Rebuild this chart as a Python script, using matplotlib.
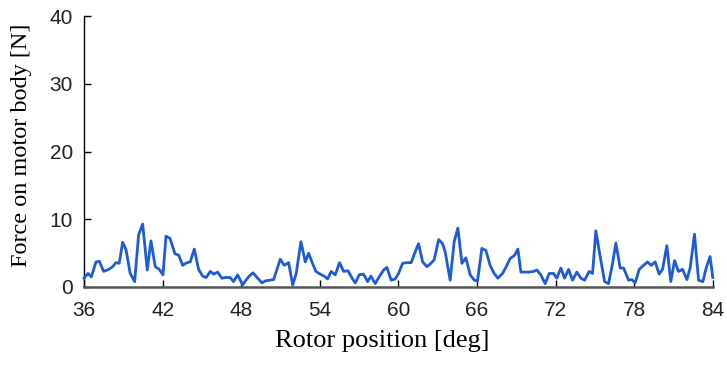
import matplotlib
matplotlib.use("Agg")
import matplotlib.pyplot as plt

# rotor angle [deg] and resulting force on the motor body [N]
position = [
    36.00, 36.31, 36.56, 36.92, 37.17, 37.50, 37.88, 38.19, 38.44, 38.69,
    38.95, 39.21, 39.53, 39.87, 40.17, 40.48, 40.83, 41.11, 41.44, 41.75,
    42.03, 42.26, 42.56, 42.95, 43.23, 43.53, 43.86, 44.11, 44.42, 44.75,
    45.06, 45.33, 45.64, 45.90, 46.20, 46.53, 46.84, 47.16, 47.42, 47.73,
    48.11, 48.36, 48.61, 48.90, 49.26, 49.58, 49.84, 50.14, 50.48, 50.98,
    51.29, 51.62, 51.93, 52.20, 52.56, 52.89, 53.15, 53.40, 53.70, 54.03,
    54.34, 54.60, 54.87, 55.18, 55.51, 55.82, 56.15, 56.50, 56.71, 57.01,
    57.34, 57.65, 57.90, 58.23, 58.53, 58.87, 59.12, 59.45, 59.76, 60.01,
    60.32, 60.65, 60.98, 61.28, 61.54, 61.85, 62.18, 62.43, 62.73, 63.07,
    63.37, 63.57, 63.95, 64.26, 64.54, 64.85, 65.15, 65.48, 65.79, 66.04,
    66.37, 66.68, 67.00, 67.31, 67.59, 67.95, 68.20, 68.53, 68.87, 69.12,
    69.35, 69.68, 69.98, 70.32, 70.57, 70.87, 71.20, 71.51, 71.84, 72.09,
    72.40, 72.68, 72.99, 73.29, 73.62, 73.93, 74.21, 74.56, 74.82, 75.07,
    75.40, 75.74, 76.04, 76.35, 76.60, 76.93, 77.19, 77.57, 77.82, 78.07,
    78.38, 78.71, 79.02, 79.29, 79.60, 79.90, 80.16, 80.49, 80.79, 81.08,
    81.38, 81.69, 82.02, 82.27, 82.60, 82.91, 83.24, 83.49, 83.79, 84.00,
]
force = [
    1.3, 2.0, 1.5, 3.7, 3.8, 2.3, 2.6, 3.0, 3.6, 3.5,
    6.6, 5.5, 2.0, 0.8, 7.7, 9.3, 2.5, 6.8, 3.0, 2.6,
    1.8, 7.5, 7.2, 4.9, 4.7, 3.2, 3.6, 3.7, 5.6, 2.6,
    1.6, 1.4, 2.3, 1.9, 2.2, 1.3, 1.4, 1.4, 0.8, 1.8,
    0.3, 1.0, 1.6, 2.1, 1.3, 0.6, 0.9, 1.0, 1.1, 4.1,
    3.2, 3.6, 0.3, 2.0, 6.7, 3.7, 5.0, 3.7, 2.3, 1.9,
    1.6, 1.2, 2.3, 1.8, 3.6, 2.3, 2.4, 1.2, 0.6, 1.8,
    1.9, 0.8, 1.6, 0.5, 1.5, 2.5, 2.9, 1.0, 1.2, 2.0,
    3.5, 3.6, 3.6, 5.2, 6.4, 3.7, 3.0, 3.4, 4.0, 7.0,
    6.4, 5.2, 1.0, 6.7, 8.7, 3.5, 4.3, 1.8, 1.0, 0.9,
    5.7, 5.4, 3.2, 2.0, 1.3, 2.0, 2.9, 4.2, 4.7, 5.6,
    2.2, 2.2, 2.2, 2.3, 2.5, 1.8, 0.5, 2.0, 2.0, 1.3,
    2.8, 1.3, 2.6, 1.0, 2.2, 1.3, 1.0, 2.3, 2.0, 8.3,
    4.5, 0.8, 0.5, 3.5, 6.5, 2.8, 2.8, 1.0, 1.1, 0.6,
    2.6, 3.2, 3.7, 3.2, 3.7, 1.9, 2.6, 6.1, 0.8, 3.9,
    2.3, 2.6, 1.1, 2.8, 7.8, 1.0, 0.8, 2.8, 4.5, 1.4,
]

x_ticks = [36, 42, 48, 54, 60, 66, 72, 78, 84]
y_ticks = [0, 10, 20, 30, 40]

fig = plt.figure(figsize=(7.27, 3.67), dpi=100)
ax = fig.add_axes([0.1155, 0.218, 0.865, 0.738])

ax.plot(position, force, color="#1d5cd4", lw=2.0, clip_on=False, zorder=3)

ax.set_xlim(36, 84)
ax.set_ylim(0, 40)
ax.set_xticks(x_ticks)
ax.set_yticks(y_ticks)

ax.spines["top"].set_visible(False)
ax.spines["right"].set_visible(False)
ax.spines["left"].set_color("black")
ax.spines["left"].set_linewidth(1.0)
ax.spines["bottom"].set_color("#555555")
ax.spines["bottom"].set_linewidth(1.8)

ax.tick_params(direction="in", length=5, width=1.0, color="black",
               labelsize=15)
ax.tick_params(axis="x", pad=10)
ax.tick_params(axis="y", pad=8)
for lab in ax.get_xticklabels() + ax.get_yticklabels():
    lab.set_fontfamily("Liberation Sans")
    lab.set_color("#222222")

ax.set_xlabel("Rotor position [deg]", fontfamily="Liberation Serif",
              fontsize=19)
ax.set_ylabel("Force on motor body [N]", fontfamily="Liberation Serif",
              fontsize=17.5)
ax.xaxis.set_label_coords(0.474, -0.16)
ax.yaxis.set_label_coords(-0.083, 0.524)

fig.savefig("out.png", dpi=100)
